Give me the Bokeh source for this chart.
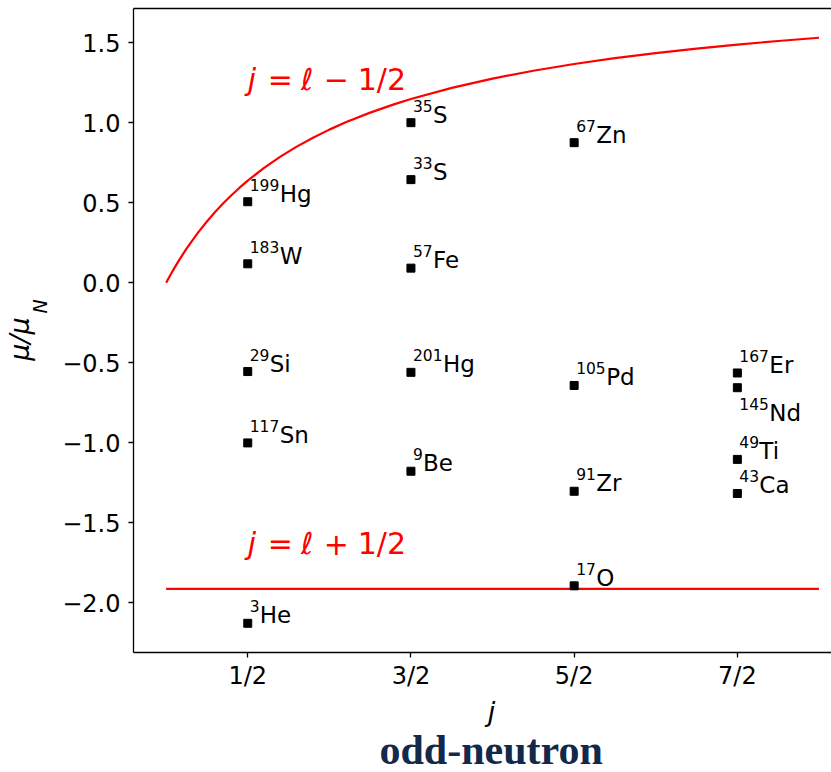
from bokeh.plotting import figure
from bokeh.models import (Range1d, FixedTicker, LinearAxis, Label, Title,
                          ColumnDataSource)
from bokeh.core.properties import value
from bokeh.embed import file_html
from bokeh.resources import INLINE

# Magnetic moments of odd-neutron nuclei (mu / mu_N) against spin j
spin = [0.5, 0.5, 0.5, 0.5, 0.5,
        1.5, 1.5, 1.5, 1.5, 1.5,
        2.5, 2.5, 2.5, 2.5,
        3.5, 3.5, 3.5, 3.5]
moment = [0.506, 0.118, -0.555, -1.001, -2.128,
          1.000, 0.644, 0.091, -0.560, -1.178,
          0.875, -0.642, -1.303, -1.894,
          -0.564, -0.656, -1.104, -1.317]
mass = ["199", "183", "29", "117", "3",
        "35", "33", "57", "201", "9",
        "67", "105", "91", "17",
        "167", "145", "49", "43"]
element = ["Hg", "W", "Si", "Sn", "He",
           "S", "S", "Fe", "Hg", "Be",
           "Zn", "Pd", "Zr", "O",
           "Er", "Nd", "Ti", "Ca"]

# Schmidt lines for an odd neutron
schmidt_j = [0.0, 0.025, 0.05, 0.075, 0.1, 0.125, 0.15, 0.2, 0.25, 0.3,
             0.35, 0.4, 0.45, 0.5, 0.6, 0.7, 0.8, 0.9, 1.0, 1.1, 1.25,
             1.4, 1.5, 1.75, 2.0, 2.25, 2.5, 2.75, 3.0, 3.25, 3.5, 3.75, 4.0]
schmidt_minus = [0.0, 0.0467, 0.0911, 0.1335, 0.1739, 0.2126, 0.2495,
                 0.3188, 0.3826, 0.4415, 0.4960, 0.5466, 0.5937, 0.6377,
                 0.7174, 0.7877, 0.8502, 0.9062, 0.9565, 1.0021, 1.0628,
                 1.1159, 1.1478, 1.2174, 1.2753, 1.3244, 1.3664, 1.4029,
                 1.4348, 1.4629, 1.4879, 1.5103, 1.5304]
flat_j = [0.0, 4.0]
schmidt_plus = [-1.913, -1.913]

j_ticks = [0.5, 1.5, 2.5, 3.5]
j_tick_labels = ["1/2", "3/2", "5/2", "7/2"]
mu_ticks = [-2.0, -1.5, -1.0, -0.5, 0.0, 0.5, 1.0, 1.5]
mu_tick_labels = ["\u22122.0", "\u22121.5", "\u22121.0", "\u22120.5",
                  "0.0", "0.5", "1.0", "1.5"]

FONT = value("DejaVu Sans")
RED = "#ff0000"
NB = "\u00a0"

p = figure(frame_width=699, frame_height=644,
           x_range=Range1d(-0.2, 4.083), y_range=Range1d(-2.3105, 1.7133),
           output_backend="svg", toolbar_location=None,
           min_border_left=132, min_border_top=8, min_border_right=0,
           min_border_bottom=120, background_fill_color="white",
           border_fill_color="white", outline_line_color=None)
p.xgrid.visible = False
p.ygrid.visible = False

for ax in (p.xaxis[0], p.yaxis[0]):
    ax.axis_line_color = "black"
    ax.axis_line_width = 1.3
    ax.major_tick_line_color = "black"
    ax.major_tick_line_width = 1.3
    ax.major_tick_in = 0
    ax.major_tick_out = 5
    ax.minor_tick_line_color = None
    ax.major_label_text_font = "DejaVu Sans"
    ax.major_label_text_font_size = "24px"
    ax.major_label_text_color = "black"

p.xaxis.ticker = FixedTicker(ticks=j_ticks)
p.xaxis.major_label_overrides = dict(zip(j_ticks, j_tick_labels))
p.xaxis.major_label_standoff = 4
p.xaxis.axis_label = NB + NB + "j"
p.xaxis.axis_label_text_font = "DejaVu Sans"
p.xaxis.axis_label_text_font_style = "italic"
p.xaxis.axis_label_text_font_size = "27px"
p.xaxis.axis_label_text_color = "black"
p.xaxis.axis_label_standoff = 3

p.yaxis.ticker = FixedTicker(ticks=mu_ticks)
p.yaxis.major_label_overrides = dict(zip(mu_ticks, mu_tick_labels))
p.yaxis.major_label_standoff = 8
# subscript N of the y title sits next to the tick labels
p.yaxis.axis_label = NB * 8 + "N"
p.yaxis.axis_label_text_font = "DejaVu Sans"
p.yaxis.axis_label_text_font_style = "italic"
p.yaxis.axis_label_text_font_size = "19px"
p.yaxis.axis_label_text_color = "black"
p.yaxis.axis_label_standoff = 8

# the mu/mu part of the y title
ylab = LinearAxis(ticker=FixedTicker(ticks=[]), axis_line_color=None,
                  major_tick_line_color=None, minor_tick_line_color=None,
                  major_label_text_font_size="0px", major_label_standoff=0,
                  major_tick_out=0, major_tick_in=0,
                  axis_label="\u03bc/\u03bc" + NB + NB,
                  axis_label_text_font="DejaVu Sans",
                  axis_label_text_font_style="italic",
                  axis_label_text_font_size="27px",
                  axis_label_text_color="black",
                  axis_label_standoff=-8)
p.add_layout(ylab, "left")

# top edge of the frame
top = LinearAxis(ticker=FixedTicker(ticks=[]), axis_line_color="black",
                 axis_line_width=1.3, major_tick_line_color=None,
                 minor_tick_line_color=None, major_label_text_font_size="0px",
                 major_label_standoff=0, major_tick_out=0, major_tick_in=0)
p.add_layout(top, "above")

# Schmidt lines
p.line(schmidt_j, schmidt_minus, line_color=RED, line_width=2.2)
p.line(flat_j, schmidt_plus, line_color=RED, line_width=2.2)

# nuclei
drop = {"145Nd": 33}
main_dy = [-8 + drop.get(m + e, 0) for m, e in zip(mass, element)]
src = ColumnDataSource(dict(
    j=spin, mu=moment, mass=mass, element=element,
    main_dy=main_dy,
    sup_dy=[d - 9 for d in main_dy],
    sym_dx=[2 + 10.0 * len(m) for m in mass],
))
p.scatter("j", "mu", source=src, marker="square", size=8,
          fill_color="black", line_color="black")
p.text("j", "mu", text="mass", source=src, x_offset=2, y_offset="sup_dy",
       text_font=FONT, text_font_size="15.5px", text_color="black",
       text_baseline="alphabetic", text_align="left")
p.text("j", "mu", text="element", source=src, x_offset="sym_dx",
       y_offset="main_dy", text_font=FONT, text_font_size="23px",
       text_color="black", text_baseline="alphabetic", text_align="left")

# line labels: j = l -/+ 1/2
def line_label(y, sign):
    pieces = [("j", 0, "italic"), ("=", 20, "normal"), ("\u2113", 53, "normal"),
              (sign, 76, "normal"), ("1/2", 110, "normal")]
    for txt, dx, style in pieces:
        p.add_layout(Label(x=0.5, y=y, x_offset=dx, text=txt,
                           text_font="DejaVu Sans", text_font_style=style,
                           text_font_size="30px", text_color=RED,
                           text_baseline="alphabetic", text_align="left"))

line_label(1.27, "\u2212")
line_label(-1.63, "+")

# caption under the plot
p.add_layout(Title(text="odd-neutron", align="left", offset=246,
                   text_font="Liberation Serif", text_font_style="bold",
                   text_font_size="42px", text_color="#13294b",
                   standoff=-9), "below")

open("out.html", "w").write(file_html(p, INLINE))
